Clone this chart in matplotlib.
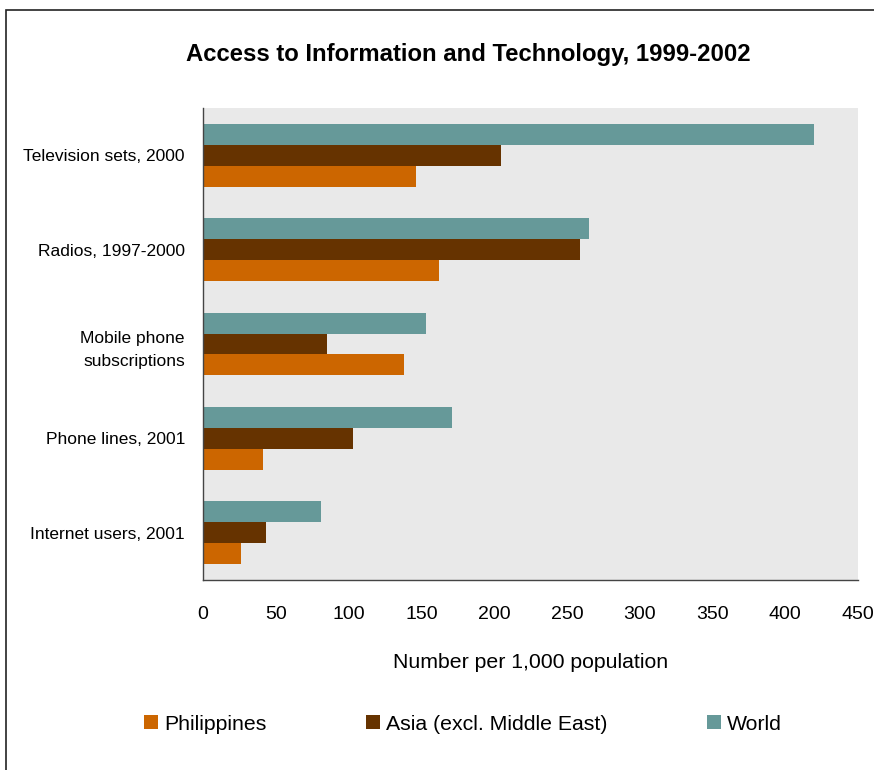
import matplotlib
matplotlib.use("Agg")
from matplotlib import pyplot as plt
from matplotlib.patches import Rectangle
import numpy as np

categories = [
    "Television sets, 2000",
    "Radios, 1997-2000",
    "Mobile phone\nsubscriptions",
    "Phone lines, 2001",
    "Internet users, 2001",
]
philippines = [146, 162, 138, 41, 26]
asia = [205, 259, 85, 103, 43]
world = [420, 265, 153, 171, 81]
series_names = ["Philippines", "Asia (excl. Middle East)", "World"]
colors = ["#CC6600", "#663300", "#669999"]
x_ticks = [0, 50, 100, 150, 200, 250, 300, 350, 400, 450]

plt.rcParams["font.family"] = ["Liberation Sans", "DejaVu Sans"]

fig = plt.figure(figsize=(8.74, 7.7), dpi=100)
W, H = 874, 770
ax = fig.add_axes([203 / W, 1 - 580 / H, 655 / W, 472 / H])
ax.set_facecolor("#E9E9E9")

# outer frame, cropped at right and bottom like the source
fig.patches.append(Rectangle((6 / W, -0.1), 1.2, 1 - 10 / H + 0.1,
                             transform=fig.transFigure, fill=False,
                             edgecolor="#222222", linewidth=1.2))

y = np.arange(len(categories))
h = 0.222
for vals, name, col, off in zip([philippines, asia, world], series_names, colors, [h, 0, -h]):
    ax.barh(y + off, vals, height=h, color=col, label=name)

ax.set_ylim(len(categories) - 0.5, -0.5)
ax.set_xlim(0, 450)
ax.set_yticks(y)
ax.set_yticklabels(categories, fontsize=12.5, linespacing=1.7)
ax.set_xticks(x_ticks)
ax.set_xticklabels([str(t) for t in x_ticks], fontsize=14)
ax.tick_params(axis="both", length=0)
ax.tick_params(axis="y", pad=13)
ax.tick_params(axis="x", pad=19)
for s in ["top", "right"]:
    ax.spines[s].set_visible(False)
for s in ["left", "bottom"]:
    ax.spines[s].set_color("#444444")
    ax.spines[s].set_linewidth(1.0)

ax.set_xlabel("Number per 1,000 population", fontsize=15.3, labelpad=21)
fig.text(468 / W, 1 - 54 / H, "Access to Information and Technology, 1999-2002",
         ha="center", va="center", fontsize=17.2, fontweight="bold")

fig.legend(loc="center", bbox_to_anchor=(463 / W, 1 - 724 / H), ncol=3,
           frameon=False, fontsize=15.3, handlelength=0.66, handleheight=0.66,
           handletextpad=0.3, columnspacing=4.65)

fig.savefig("out.png", dpi=100)
